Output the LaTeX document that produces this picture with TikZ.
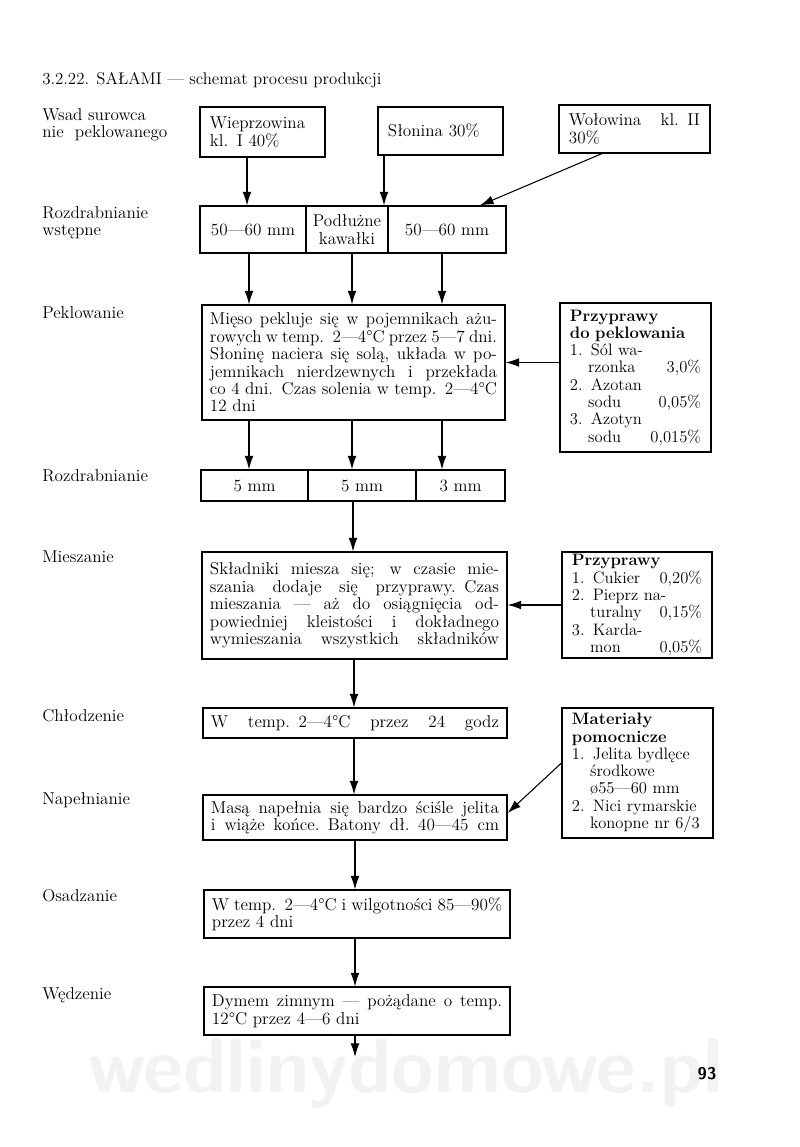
\documentclass[tikz,border=0pt]{standalone}
\usepackage{tikz}
\usetikzlibrary{arrows.meta, positioning, calc}

\newcommand{\bodyfont}{\fontsize{12.2}{12.4}\selectfont}
\newcommand{\sidefont}{\fontsize{11.8}{12.3}\selectfont}
% one justified line of the given node width
\newcommand{\jl}[1]{\leavevmode\hbox to \tw{\spaceskip=.33em plus 1fil minus .12em\relax #1}}
\newcommand{\ind}{\phantom{1.\ }}

\tikzset{
  box/.style={draw, line width=0.8pt, inner xsep=0.2cm, inner ysep=0pt, align=left, font=\bodyfont,
              text width=#1, execute at begin node={\def\tw{#1}}},
  side/.style={box=#1, inner xsep=0.25cm, font=\sidefont},
  cell/.style={draw, line width=0.8pt, inner sep=0pt, align=center, font=\bodyfont},
  lbl/.style={anchor=west, align=left, inner sep=0pt, font=\bodyfont},
  arr/.style={line width=0.75pt, -{Latex[length=3.4mm, width=2.2mm]}},
}

\begin{document}
\begin{tikzpicture}[x=0.025cm, y=-0.025cm]
        \useasboundingbox (0,0) rectangle (800,1147);
        % watermark and page number
        \node[inner sep=0pt, font=\fontsize{55}{55}\sffamily\bfseries, text=black!5] (wm) at (406,1074) {wedlinydomowe.pl};
        \node[inner sep=0pt, font=\fontsize{12}{12}\sffamily\bfseries] (page) at (707,1074) {93};

        % title
        \node[anchor=west, inner sep=0pt, font=\fontsize{12}{14}\selectfont] (title) at (42,80) {3.2.22. SAŁAMI — schemat procesu produkcji};

        % stage labels on the left
        \node[lbl] (l1) at (42,125) {Wsad surowca\\nie\ \ peklowanego};
        \node[lbl] (l2) at (42,223) {Rozdrabnianie\\wstępne};
        \node[lbl] (l3) at (42,313) {Peklowanie};
        \node[lbl] (l4) at (42,476) {Rozdrabnianie};
        \node[lbl] (l5) at (42,557) {Mieszanie};
        \node[lbl] (l6) at (42,716) {Chłodzenie};
        \node[lbl] (l7) at (42,800) {Napełnianie};
        \node[lbl] (l8) at (42,896) {Osadzanie};
        \node[lbl] (l9) at (42,995) {Wędzenie};

        % raw material
        \node[box=2.625cm, inner xsep=0.25cm, minimum height=1.25cm] (wiep) at (262.5,132) {Wieprzowina\\kl. I 40\%};
        \node[box=2.625cm, inner xsep=0.25cm, minimum height=1.2cm] (slon) at (440.5,131) {Słonina 30\%};
        \node[box=3.275cm, inner xsep=0.25cm, minimum height=1.2cm] (wol) at (634.5,129) {\jl{Wołowina kl. II}\\30\%};

        % first grinding
        \node[cell, minimum width=2.65cm, minimum height=1.175cm] (r1a) at (253,229.5) {50—60 mm};
        \node[cell, minimum width=2.05cm, minimum height=1.175cm] (r1b) at (347,229.5) {Podłużne\\kawałki};
        \node[cell, minimum width=2.95cm, minimum height=1.175cm] (r1c) at (447,229.5) {50—60 mm};

        % curing
        \node[box=7.175cm, minimum height=2.875cm] (pekl) at (353.5,362.5) {%
          \jl{Mięso pekluje się w pojemnikach ażu-}\\
          \jl{rowych w temp. 2—4°C przez 5—7 dni.}\\
          \jl{Słoninę naciera się solą, układa w po-}\\
          \jl{jemnikach nierdzewnych i przekłada}\\
          \jl{co 4 dni. Czas solenia w temp. 2—4°C}\\
          12 dni};
        \node[side=3.275cm, minimum height=3.725cm] (prz1) at (635.5,377.5) {%
          \textbf{Przyprawy}\\
          \textbf{do peklowania}\\
          1. Sól wa-\\
          \ind rzonka\hfill 3,0\%\\
          2. Azotan\\
          \ind sodu\hfill 0,05\%\\
          3. Azotyn\\
          \ind sodu\hfill 0,015\%};

        % grinding
        \node[cell, minimum width=2.675cm, minimum height=0.775cm] (r2a) at (254.5,485.5) {5 mm};
        \node[cell, minimum width=2.7cm, minimum height=0.775cm] (r2b) at (362,485.5) {5 mm};
        \node[cell, minimum width=2.225cm, minimum height=0.775cm] (r2c) at (460.5,485.5) {3 mm};

        % mixing
        \node[box=7.225cm, minimum height=2.675cm] (mies) at (354.5,605.5) {%
          \jl{Składniki miesza się; w czasie mie-}\\
          \jl{szania dodaje się przyprawy. Czas}\\
          \jl{mieszania — aż do osiągnięcia od-}\\
          \jl{powiedniej kleistości i dokładnego}\\
          \jl{wymieszania wszystkich składników}};
        \node[side=3.25cm, minimum height=2.65cm] (prz2) at (637,605) {%
          \textbf{Przyprawy}\\
          1. Cukier\hfill 0,20\%\\
          2. Pieprz na-\\
          \ind turalny\hfill 0,15\%\\
          3. Karda-\\
          \ind mon\hfill 0,05\%};

        % cooling, stuffing, settling, smoking
        \node[box=7.2cm, minimum height=0.75cm] (chl) at (355,723) {\jl{W temp. 2—4°C przez 24 godz}};
        \node[box=7.2cm, minimum height=1.125cm] (nap) at (355,817.5) {%
          \jl{Masą napełnia się bardzo ściśle jelita}\\
          \jl{i wiąże końce. Batony dł. 40—45 cm}};
        \node[side=3.275cm, minimum height=3.25cm] (mat) at (637.5,773) {%
          \textbf{Materiały}\\
          \textbf{pomocnicze}\\
          1. Jelita bydlęce\\
          \ind środkowe\\
          \ind ø55—60 mm\\
          2. Nici rymarskie\\
          \ind konopne nr 6/3};
        \node[box=7.25cm, minimum height=1.2cm] (osa) at (357,914) {%
          \jl{W temp. 2—4°C i wilgotności 85—90\%}\\
          przez 4 dni};
        \node[box=7.25cm, minimum height=1.2cm] (wed) at (357,1011) {%
          \jl{Dymem zimnym — pożądane o temp.}\\
          12°C przez 4—6 dni};
        \coordinate (out) at (355,1057);

        % arrows
        \draw[arr] (wiep.south -| 247,0) -- (r1a.north -| 247,0);
        \draw[arr] (slon.south -| 384,0) -- (r1b.north -| 384,0);
        \draw[arr] (wol.south -| 602,0) -- (r1c.north -| 480,0);
        \foreach \s/\x in {r1a/249, r1b/352, r1c/442}
          \draw[arr] (\s.south -| \x,0) -- (pekl.north -| \x,0);
        \foreach \t/\x in {r2a/249, r2b/352, r2c/442}
          \draw[arr] (pekl.south -| \x,0) -- (\t.north -| \x,0);
        \draw[arr] (prz1.west |- pekl.east) -- (pekl.east);
        \draw[arr] (r2b.south -| 353,0) -- (mies.north -| 353,0);
        \draw[arr] (prz2.west) -- (prz2.west -| mies.east);
        \draw[arr] (mies.south -| 354,0) -- (chl.north -| 354,0);
        \draw[arr] (chl.south -| 354,0) -- (nap.north -| 354,0);
        \draw[arr] (mat.west |- 0,763) -- (nap.east |- 0,813);
        \draw[arr] (nap.south -| 355,0) -- (osa.north -| 355,0);
        \draw[arr] (osa.south -| 355,0) -- (wed.north -| 355,0);
        \draw[arr] (wed.south -| out) -- (out);
    \end{tikzpicture}
\end{document}
